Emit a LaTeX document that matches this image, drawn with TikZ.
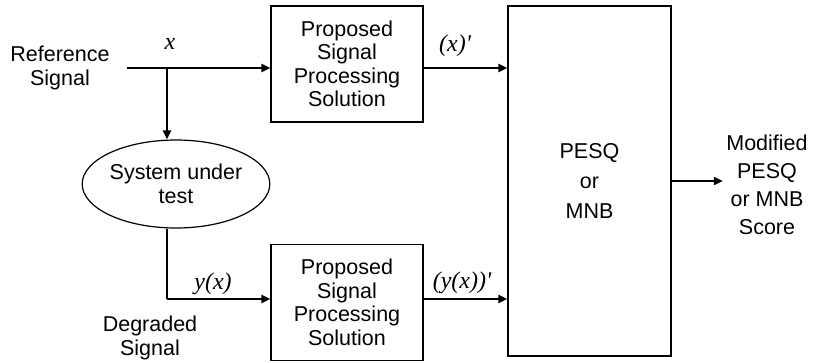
\documentclass[tikz,border=0pt]{standalone}
\usepackage{fontspec}
\setmainfont{Liberation Sans}
\newfontfamily\labserif{Liberation Serif}
\usetikzlibrary{shapes.geometric,arrows.meta}
\begin{document}
\begin{tikzpicture}[x=1pt,y=-1pt,
  box/.style={draw, line width=1.2pt, minimum width=152pt, minimum height=116pt, align=center, inner sep=0pt},
  arr/.style={line width=2pt, -{Triangle[length=9pt,width=8pt]}},
  txt/.style={align=center, font=\fontsize{21.5}{23.5}\selectfont},
  lab/.style={font=\fontsize{24}{24}\labserif\itshape, inner sep=0pt}]
\useasboundingbox (0,0) rectangle (814,362);
\node[box, txt] (p1) at (347,64) {Proposed\\Signal\\Processing\\Solution};
\node[box, txt] (p2) at (347,302.5) {Proposed\\Signal\\Processing\\Solution};
\node[box, minimum width=163pt, minimum height=350pt, align=center, font=\fontsize{21.5}{30}\selectfont] (pesq) at (589.5,181) {PESQ\\or\\MNB};
\node[draw, ellipse, line width=1.2pt, minimum width=163pt, minimum height=88pt, inner sep=0pt, txt] (sut) at (176,184) {System under\\test};
\node[txt] (ref) at (60,68) {Reference\\Signal};
\node[txt] (deg) at (150,338) {Degraded\\Signal};
\node[txt, font=\fontsize{21.5}{28}\selectfont] (out) at (767,185) {Modified\\PESQ\\or MNB\\Score};
\coordinate (refin) at (127,68);
\coordinate (br) at (167,68);
\coordinate (dn) at (167,299);
\draw[arr] (refin) -- (refin -| p1.west);
\draw[arr] (br) -- (br |- sut.north);
\draw[line width=2pt] (sut.south -| dn) -- (dn);
\draw[arr] (dn) -- (dn -| p2.west);
\draw[arr] (p1.east |- refin) -- (refin -| pesq.west);
\draw[arr] (p2.east |- dn) -- (dn -| pesq.west);
\draw[arr] (pesq.east) -- (pesq.east -| out.west);
\node[lab] (lx) at (170,44) {x};
\node[lab] (lx1) at (455,46) {(x)'};
\node[lab] (lyx) at (213,284) {y(x)};
\node[lab] (lyx1) at (462,283) {(y(x))'};
\end{tikzpicture}
\end{document}
